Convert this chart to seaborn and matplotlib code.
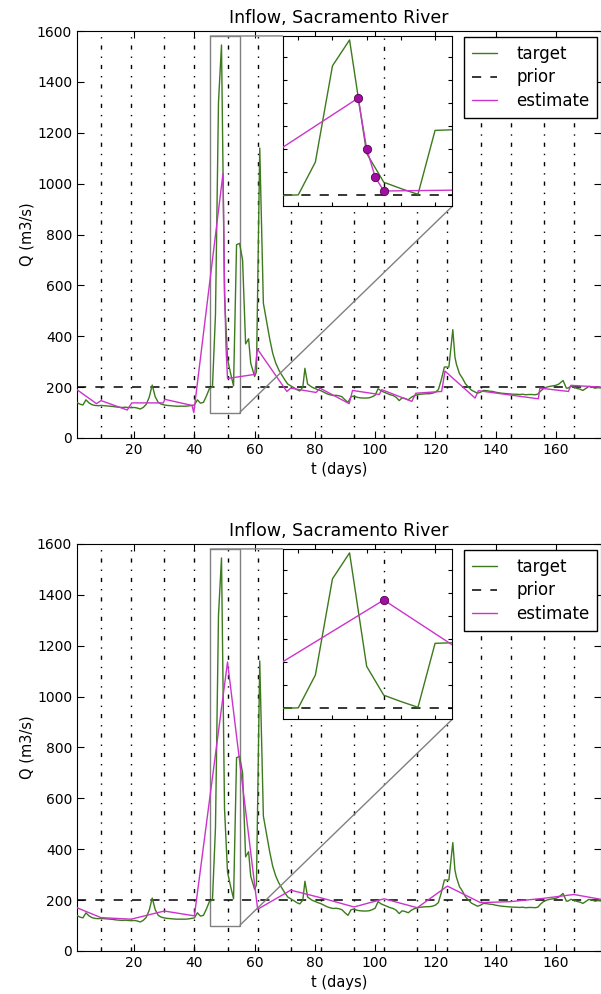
import matplotlib
matplotlib.use("Agg")
import matplotlib.pyplot as plt
import seaborn as sns
from mpl_toolkits.axes_grid1.inset_locator import mark_inset

# ---------------- data ----------------
target_t = [1, 2, 3, 4, 5, 6, 7, 8, 9, 10, 11, 12, 13, 14, 15, 16, 17, 18, 19, 20,
            21, 22, 23, 24, 25, 26, 27, 28, 29, 30, 31, 32, 33, 34, 35, 36, 37, 38, 39, 40,
            41, 42, 43, 44, 45, 46, 47, 48, 49, 50, 51, 52, 53, 54, 55, 56, 57, 58, 58.7, 60,
            60.6, 61.7, 62.9, 64, 65, 66, 67, 68, 69, 70, 71, 72, 73, 74, 75, 76, 76.7, 77.6, 79, 80,
            81, 82, 83, 84, 85, 86, 87, 88, 89, 90, 91, 92, 93, 94, 95, 96, 97, 98, 99, 100,
            101, 102, 103, 104, 105, 106, 107, 108, 109, 110, 111, 112, 113, 114, 115, 116, 117, 118, 119, 120,
            121, 122, 123, 124.5, 125.8, 126.5, 127, 128, 129, 130, 131, 132, 133, 134, 135, 136, 137, 138, 139, 140,
            141, 142, 143, 144, 145, 146, 147, 148, 149, 150, 151, 152, 153, 154, 155, 156, 157, 158, 159, 160,
            161, 162.4, 163.5, 164, 165, 166, 167, 168, 169, 170, 171, 172, 173, 174, 175]
target_q = [140, 133, 130, 150, 138, 131, 128, 127, 128, 127, 126, 125, 124, 122, 121, 120, 121, 120, 119, 120,
            118, 114, 120, 132, 160, 208, 162, 140, 133, 130, 128, 127, 126, 125, 125, 125, 125, 126, 128, 130,
            150, 137, 140, 165, 195, 200, 485, 1320, 1545, 560, 310, 255, 205, 760, 765, 700, 370, 390, 294, 242,
            260, 1140, 530, 457, 390, 333, 295, 268, 248, 229, 212, 205, 198, 190, 185, 200, 274, 212, 200, 195,
            190, 186, 180, 174, 170, 167, 168, 166, 162, 150, 140, 162, 165, 160, 158, 157, 157, 158, 162, 168,
            194, 185, 180, 175, 170, 167, 160, 147, 158, 155, 150, 160, 166, 170, 172, 173, 174, 174, 176, 180,
            190, 230, 279, 279, 426, 318, 290, 253, 235, 213, 200, 188, 182, 176, 180, 187, 186, 184, 183, 180,
            178, 176, 175, 174, 173, 172, 172, 171, 172, 170, 171, 171, 170, 172, 185, 195, 200, 203, 205, 207,
            212, 226, 196, 196, 203, 200, 195, 192, 187, 195, 203, 200, 196, 198, 197]
prior_q = 200
window_t = [9, 19, 30, 40, 51, 61, 72, 82, 93, 103, 114, 124, 135, 145, 156, 166]

est_top_t = [1, 7.5, 9, 17.7, 19.2, 29.7, 30.2, 39.2, 39.8, 49.5, 50, 50.5, 51, 60, 60.9,
             70.7, 72, 80.4, 81.7, 91.4, 92.5, 101.4, 102.2, 112.2, 113.5, 122.1, 123.2,
             133.2, 134.3, 154.2, 154.7, 164.2, 165, 175]
est_top_q = [190, 135, 147, 110, 138, 138, 152, 128, 100, 1040, 600, 354, 234, 250, 350,
             183, 196, 179, 196, 135, 187, 171, 190, 144, 176, 183, 263,
             157, 186, 154, 196, 183, 207, 200]

est_bot_t = [1, 9, 19, 30, 40, 51, 61, 72, 82, 93, 103, 114, 124, 135, 145, 156, 166, 175]
est_bot_q = [170, 131, 125, 157, 138, 1136, 164, 239, 209, 173, 205, 170, 255, 190, 194, 207, 222, 203]

title = "Inflow, Sacramento River"
xlabel = "t (days)"
ylabel = "Q (m3/s)"
y_ticks = [0, 200, 400, 600, 800, 1000, 1200, 1400, 1600]
x_ticks = [20, 40, 60, 80, 100, 120, 140, 160]

GREEN = "#3c7a1c"
MAGENTA = "#cc33cc"
MARK = "#a0109f"

# ---------------- style ----------------
sns.set_style("ticks", rc={
    "xtick.direction": "in", "ytick.direction": "in",
    "xtick.top": True, "ytick.right": True,
    "axes.edgecolor": "black", "axes.linewidth": 1.0,
    "xtick.color": "black", "ytick.color": "black",
    "text.color": "black", "axes.labelcolor": "black",
})
plt.rcParams["font.family"] = ["DejaVu Sans"]

fig, axes = plt.subplots(2, 1, figsize=(6.01, 9.94), dpi=100)
fig.subplots_adjust(left=0.128, right=1.0, top=0.9688, bottom=0.0433, hspace=0.2604)


def draw_lines(ax, est_t, est_q, markers=False):
    for w in window_t:
        ax.axvline(w, color="black", lw=1.0, dashes=(3, 5, 1, 5), zorder=1)
    sns.lineplot(x=target_t, y=target_q, ax=ax, color=GREEN, lw=1.0,
                 estimator=None, sort=False, label="target", legend=False, zorder=3)
    ax.axhline(prior_q, color="black", lw=1.1, dashes=(6, 6), label="prior", zorder=2)
    kw = {}
    if markers:
        kw = dict(marker="o", markersize=6, markerfacecolor=MARK, markeredgecolor="#550055",
                  markeredgewidth=0.6)
    sns.lineplot(x=est_t, y=est_q, ax=ax, color=MAGENTA, lw=1.0,
                 estimator=None, sort=False, label="estimate", legend=False, zorder=4, **kw)


for ax, (et, eq) in zip(axes, [(est_top_t, est_top_q), (est_bot_t, est_bot_q)]):
    draw_lines(ax, et, eq)
    ax.set_xlim(1, 175)
    ax.set_ylim(0, 1600)
    ax.set_xticks(x_ticks)
    ax.set_yticks(y_ticks)
    ax.tick_params(labelsize=10, length=5, width=0.8)
    ax.set_title(title, fontsize=12.5)
    ax.set_xlabel(xlabel, fontsize=10.5)
    ax.set_ylabel(ylabel, fontsize=10.5, labelpad=2)
    handles, labels = ax.get_legend_handles_labels()
    leg = ax.legend(handles, labels, loc="upper right", bbox_to_anchor=(0.992, 0.985),
                    borderaxespad=0, fontsize=12, fancybox=False, framealpha=1,
                    edgecolor="black", handlelength=1.5, labelspacing=0.35,
                    borderpad=0.45, handletextpad=1.15)
    leg.get_frame().set_linewidth(1.0)

    axins = ax.inset_axes([0.393, 0.569, 0.323, 0.419])
    draw_lines(axins, et, eq, markers=True)
    axins.set_xlim(45.1, 55.0)
    axins.set_ylim(100, 1580)
    axins.tick_params(labelbottom=False, labelleft=False, length=3)
    axins.set_xlabel("")
    axins.set_ylabel("")
    axins.set_xticks([46, 48, 50, 52, 54])
    axins.set_yticks([200, 400, 600, 800, 1000, 1200, 1400])
    mark_inset(ax, axins, loc1=2, loc2=4, fc="none", ec="0.5", lw=1.0)

fig.savefig("out.png", dpi=100)
